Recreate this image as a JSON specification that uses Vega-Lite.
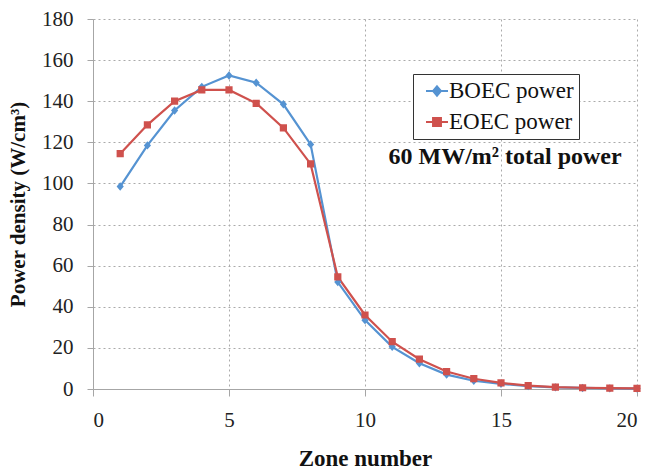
{
  "$schema": "https://vega.github.io/schema/vega-lite/v6.json",
  "width": 544,
  "height": 370,
  "autosize": {"type": "none"},
  "padding": {"left": 93, "top": 19, "right": 12, "bottom": 82},
  "background": "white",
  "config": {
    "font": "Liberation Serif",
    "view": {"stroke": null}
  },
  "data": {
    "values": [
      {"zone": 1, "series": "BOEC power", "power": 98.5},
      {"zone": 2, "series": "BOEC power", "power": 118.5},
      {"zone": 3, "series": "BOEC power", "power": 135.5},
      {"zone": 4, "series": "BOEC power", "power": 147},
      {"zone": 5, "series": "BOEC power", "power": 152.5},
      {"zone": 6, "series": "BOEC power", "power": 149},
      {"zone": 7, "series": "BOEC power", "power": 138.5},
      {"zone": 8, "series": "BOEC power", "power": 119},
      {"zone": 9, "series": "BOEC power", "power": 52},
      {"zone": 10, "series": "BOEC power", "power": 33.5},
      {"zone": 11, "series": "BOEC power", "power": 20.5},
      {"zone": 12, "series": "BOEC power", "power": 12.5},
      {"zone": 13, "series": "BOEC power", "power": 7},
      {"zone": 14, "series": "BOEC power", "power": 4},
      {"zone": 15, "series": "BOEC power", "power": 2.5},
      {"zone": 16, "series": "BOEC power", "power": 1.4},
      {"zone": 17, "series": "BOEC power", "power": 0.8},
      {"zone": 18, "series": "BOEC power", "power": 0.5},
      {"zone": 19, "series": "BOEC power", "power": 0.3},
      {"zone": 20, "series": "BOEC power", "power": 0.2},
      {"zone": 1, "series": "EOEC power", "power": 114.5},
      {"zone": 2, "series": "EOEC power", "power": 128.5},
      {"zone": 3, "series": "EOEC power", "power": 140},
      {"zone": 4, "series": "EOEC power", "power": 145.5},
      {"zone": 5, "series": "EOEC power", "power": 145.5},
      {"zone": 6, "series": "EOEC power", "power": 139},
      {"zone": 7, "series": "EOEC power", "power": 127},
      {"zone": 8, "series": "EOEC power", "power": 109.5},
      {"zone": 9, "series": "EOEC power", "power": 54.5},
      {"zone": 10, "series": "EOEC power", "power": 36},
      {"zone": 11, "series": "EOEC power", "power": 23},
      {"zone": 12, "series": "EOEC power", "power": 14.5},
      {"zone": 13, "series": "EOEC power", "power": 8.5},
      {"zone": 14, "series": "EOEC power", "power": 5},
      {"zone": 15, "series": "EOEC power", "power": 3},
      {"zone": 16, "series": "EOEC power", "power": 1.6},
      {"zone": 17, "series": "EOEC power", "power": 0.9},
      {"zone": 18, "series": "EOEC power", "power": 0.6},
      {"zone": 19, "series": "EOEC power", "power": 0.4},
      {"zone": 20, "series": "EOEC power", "power": 0.3}
    ]
  },
  "encoding": {
    "x": {
      "field": "zone", "type": "quantitative",
      "scale": {"domain": [0, 20], "nice": false},
      "axis": {
        "values": [0, 5, 10, 15, 20],
        "title": "Zone number",
        "titleFontSize": 23, "titleFontWeight": "bold", "titleColor": "#111",
        "titlePadding": 17,
        "labelFontSize": 21, "labelColor": "#222", "labelPadding": 13,
        "domainColor": "#a6a6a6", "tickColor": "#a6a6a6", "tickSize": 7,
        "grid": true, "gridColor": "#aaaaaa", "gridDash": [2, 3]
      }
    },
    "y": {
      "field": "power", "type": "quantitative",
      "scale": {"domain": [0, 180], "nice": false},
      "axis": {
        "values": [0, 20, 40, 60, 80, 100, 120, 140, 160, 180],
        "title": "Power density (W/cm³)",
        "titleFontSize": 21, "titleFontWeight": "bold", "titleColor": "#111",
        "titlePadding": 13,
        "labelFontSize": 21, "labelColor": "#222", "labelPadding": 14,
        "domainColor": "#a6a6a6", "tickColor": "#a6a6a6", "tickSize": 6,
        "grid": true, "gridColor": "#aaaaaa", "gridDash": [2, 3]
      }
    },
    "color": {
      "field": "series", "type": "nominal",
      "scale": {"domain": ["BOEC power", "EOEC power"], "range": ["#5593d2", "#cf514d"]},
      "legend": {
        "title": null,
        "orient": "none",
        "legendX": 320,
        "legendY": 55,
        "strokeColor": "#333333",
        "fillColor": "white",
        "padding": 5,
        "symbolOffset": 7,
        "labelFontSize": 23,
        "labelColor": "#111",
        "labelExpr": "datum.label + '\u00a0\u00a0'",
        "symbolSize": 484,
        "symbolStrokeWidth": 2,
        "rowPadding": 7,
        "labelOffset": 0
      }
    }
  },
  "layer": [
    {
      "mark": {"type": "line", "strokeWidth": 2.2}
    },
    {
      "mark": {"type": "point", "filled": true, "opacity": 1, "size": 400},
      "encoding": {
        "shape": {
          "field": "series", "type": "nominal",
          "scale": {
            "domain": ["BOEC power", "EOEC power"],
            "range": [
              "M-1,0H1M0,-0.42L0.36,0L0,0.42L-0.36,0Z",
              "M-1,0H1M-0.36,-0.36H0.36V0.36H-0.36Z"
            ]
          },
          "legend": {"title": null}
        }
      }
    },
    {
      "data": {"values": [{"label": "60 MW/m² total power", "lx": 15.15, "ly": 112.8}]},
      "mark": {"type": "text", "font": "Liberation Serif", "fontSize": 24, "fontWeight": "bold", "color": "#111", "align": "center", "baseline": "middle"},
      "encoding": {
        "x": {"field": "lx", "type": "quantitative"},
        "y": {"field": "ly", "type": "quantitative"},
        "color": null,
        "text": {"field": "label"}
      }
    }
  ]
}
